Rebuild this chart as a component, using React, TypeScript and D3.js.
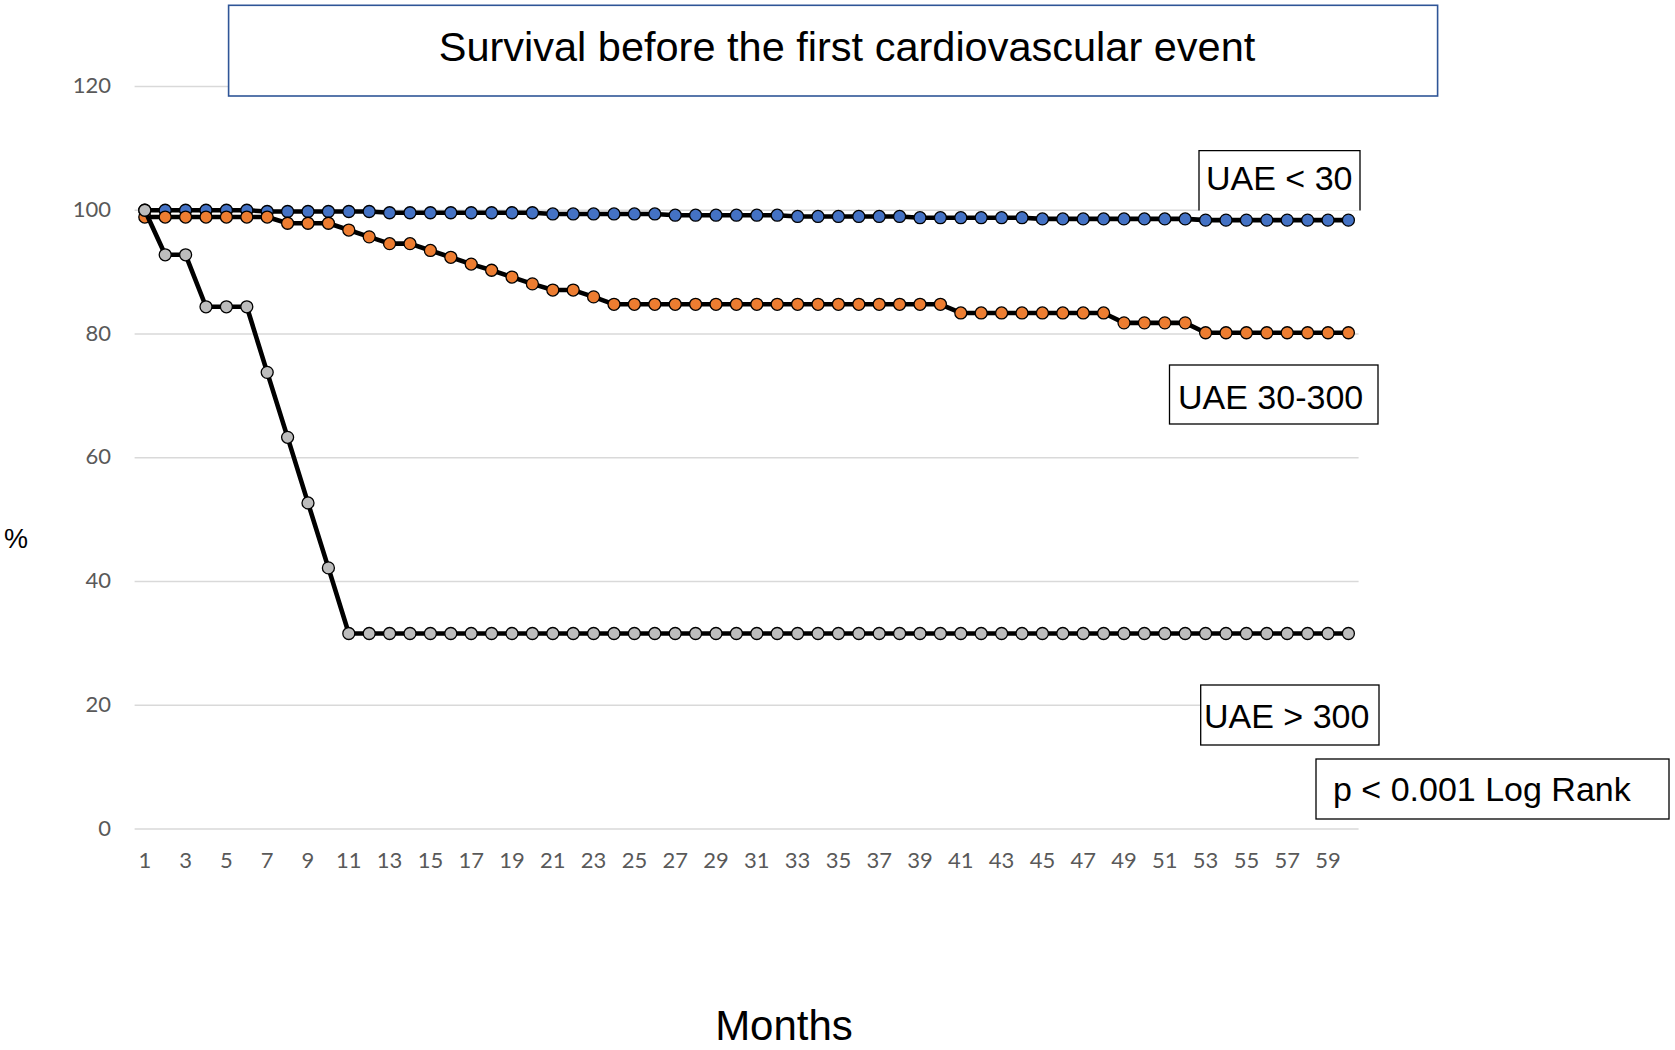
import * as d3 from "d3";

const months = d3.range(1, 61);

// UAE < 30 (blue)
const uaeLow = [
    100, 100, 100, 100, 100, 100,
    99.8, 99.8, 99.8, 99.8, 99.8, 99.8,
    99.6, 99.6, 99.6, 99.6, 99.6, 99.6, 99.6, 99.6,
    99.4, 99.4, 99.4, 99.4, 99.4, 99.4,
    99.2, 99.2, 99.2, 99.2, 99.2, 99.2,
    99.0, 99.0, 99.0, 99.0, 99.0, 99.0,
    98.8, 98.8, 98.8, 98.8, 98.8, 98.8,
    98.6, 98.6, 98.6, 98.6, 98.6, 98.6, 98.6, 98.6,
    98.4, 98.4, 98.4, 98.4, 98.4, 98.4, 98.4, 98.4
];

// UAE 30-300 (orange)
const uaeMid = [
    98.9, 98.9, 98.9, 98.9, 98.9, 98.9, 98.9,
    97.9, 97.9, 97.9,
    96.8, 95.7, 94.6, 94.6, 93.5, 92.4, 91.3, 90.3, 89.2, 88.1, 87.1, 87.1, 86.0,
    84.8, 84.8, 84.8, 84.8, 84.8, 84.8, 84.8, 84.8, 84.8, 84.8, 84.8, 84.8, 84.8, 84.8, 84.8, 84.8, 84.8,
    83.4, 83.4, 83.4, 83.4, 83.4, 83.4, 83.4, 83.4,
    81.8, 81.8, 81.8, 81.8,
    80.2, 80.2, 80.2, 80.2, 80.2, 80.2, 80.2, 80.2
];

// UAE > 300 (gray)
const uaeHigh = [
    100, 92.8, 92.8, 84.4, 84.4, 84.4, 73.8, 63.3, 52.7, 42.2,
    31.6, 31.6, 31.6, 31.6, 31.6, 31.6, 31.6, 31.6, 31.6, 31.6,
    31.6, 31.6, 31.6, 31.6, 31.6, 31.6, 31.6, 31.6, 31.6, 31.6,
    31.6, 31.6, 31.6, 31.6, 31.6, 31.6, 31.6, 31.6, 31.6, 31.6,
    31.6, 31.6, 31.6, 31.6, 31.6, 31.6, 31.6, 31.6, 31.6, 31.6,
    31.6, 31.6, 31.6, 31.6, 31.6, 31.6, 31.6, 31.6, 31.6, 31.6
];

const yTicks = [0, 20, 40, 60, 80, 100, 120];
const xTickLabels = months.filter((m) => m % 2 === 1);

const seriesList = [
    { name: "UAE < 30", values: uaeLow, color: "#4472C4" },
    { name: "UAE 30-300", values: uaeMid, color: "#ED7D31" },
    { name: "UAE > 300", values: uaeHigh, color: "#BDBDBD" }
];

const width = 1675;
const height = 1050;
const plotLeft = 134.6;
const plotRight = 1358.6;
const plotTop = 86.5;
const plotBottom = 829;

const tickFont = "Lato, 'Open Sans', sans-serif";
const textFont = "'Liberation Sans', Arial, sans-serif";

const App = () => {
    const x = d3.scaleBand<number>()
        .domain(months)
        .range([plotLeft, plotRight])
        .padding(0);

    const y = d3.scaleLinear()
        .domain([0, 120])
        .range([plotBottom, plotTop]);

    const cx = (m: number) => (x(m) ?? 0) + x.bandwidth() / 2;

    const line = d3.line<number>()
        .x((_, i) => cx(months[i]))
        .y((v) => y(v));

    return (
        <svg width={width} height={height}
            style={{ position: "absolute", left: 0, top: 0, display: "block", background: "#fff" }}>
            {/* gridlines */}
            <g>
                {yTicks.map((t) => (
                    <line key={t} x1={plotLeft} x2={plotRight} y1={y(t)} y2={y(t)}
                        stroke="#D9D9D9" strokeWidth={1.3} />
                ))}
            </g>

            {/* y tick labels */}
            <g fontFamily={tickFont} fontSize={22} fill="#595959" textAnchor="end">
                {yTicks.map((t) => (
                    <text key={t} x={111} y={y(t) + 1} dominantBaseline="middle">{t}</text>
                ))}
            </g>

            {/* x tick labels */}
            <g fontFamily={tickFont} fontSize={22} fill="#595959" textAnchor="middle">
                {xTickLabels.map((m) => (
                    <text key={m} x={cx(m)} y={862} dominantBaseline="middle">{m}</text>
                ))}
            </g>

            {/* series */}
            {seriesList.map((s) => (
                <g key={s.name}>
                    <path d={line(s.values) ?? ""} fill="none" stroke="#000" strokeWidth={4.6}
                        strokeLinejoin="round" />
                    {s.values.map((v, i) => (
                        <circle key={i} cx={cx(months[i])} cy={y(v)} r={6}
                            fill={s.color} stroke="#000" strokeWidth={1.3} />
                    ))}
                </g>
            ))}

            {/* title */}
            <rect x={228.6} y={5.3} width={1209} height={90.7} fill="#fff" stroke="#2F5597" strokeWidth={1.6} />
            <text x={847} y={61} textAnchor="middle" fontFamily={textFont} fontSize={41.5} fill="#000">
                Survival before the first cardiovascular event
            </text>

            {/* axis titles */}
            <text x={16} y={548} textAnchor="middle" fontFamily={textFont} fontSize={27} fill="#000">%</text>
            <text x={784} y={1040} textAnchor="middle" fontFamily={textFont} fontSize={42} fill="#000">Months</text>

            {/* series labels */}
            <path d="M1199,210.4 V150.6 H1360 V210.4" fill="#fff" stroke="#000" strokeWidth={1.3} />
            <text x={1206} y={190} fontFamily={textFont} fontSize={34} fill="#000">UAE &lt; 30</text>

            <rect x={1169.5} y={365} width={208.5} height={59} fill="#fff" stroke="#000" strokeWidth={1.3} />
            <text x={1178} y={409} fontFamily={textFont} fontSize={34} fill="#000">UAE 30-300</text>

            <rect x={1200.7} y={685} width={178.3} height={60} fill="#fff" stroke="#000" strokeWidth={1.3} />
            <text x={1204} y={728} fontFamily={textFont} fontSize={34} fill="#000">UAE &gt; 300</text>

            <rect x={1316} y={759} width={353} height={60} fill="#fff" stroke="#000" strokeWidth={1.3} />
            <text x={1333} y={801} fontFamily={textFont} fontSize={34} fill="#000">p &lt; 0.001 Log Rank</text>
        </svg>
    );
};

export default App;
